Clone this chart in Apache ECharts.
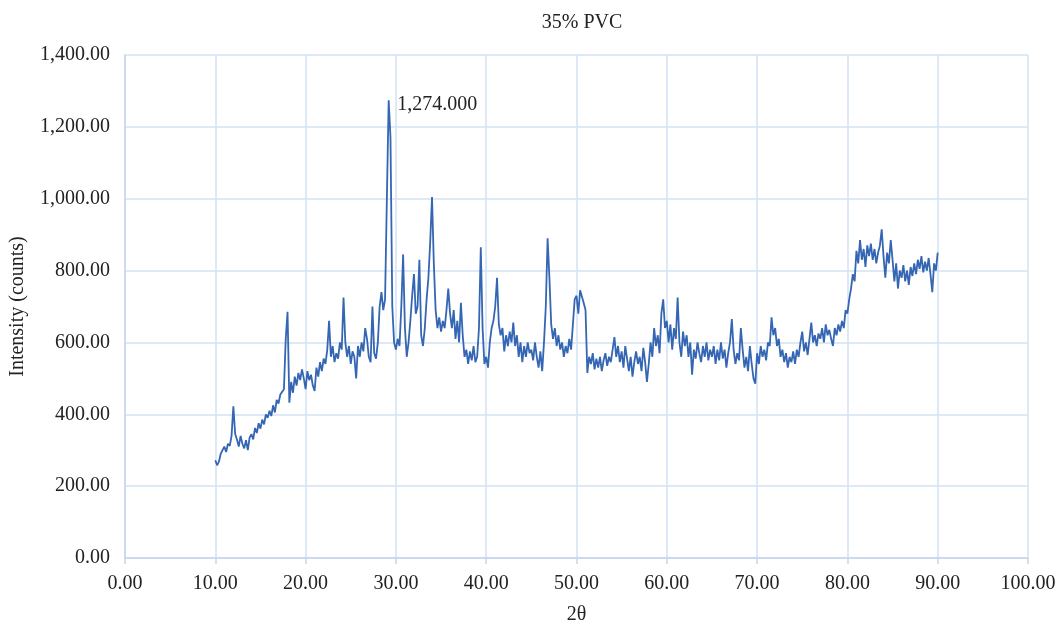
<!DOCTYPE html>
<html>
<head>
<meta charset="utf-8">
<title>35% PVC</title>
<script src="https://cdn.jsdelivr.net/npm/echarts@6/dist/echarts.min.js"></script>
<style>
  html, body { margin: 0; padding: 0; background: #ffffff; }
  #chart { width: 1063px; height: 627px; }
</style>
</head>
<body>
<div id="chart"></div>
<script>
// XRD scan of the 35% PVC sample: 2θ from 10° to 90°, step 0.2°
const chartTitle = '35% PVC';
const xAxisName = '2θ';
const yAxisName = 'Intensity (counts)';
const scanStart = 10;
const scanStep = 0.2;
const xTicks = [0, 10, 20, 30, 40, 50, 60, 70, 80, 90, 100];
const yTicks = [0, 200, 400, 600, 800, 1000, 1200, 1400];
const peakLabelText = '1,274.000';

// intensity (counts), one row per degree: n.0, n.2, n.4, n.6, n.8
const intensity = [
  272, 258, 268, 290, 300,   // 10
  310, 295, 318, 312, 340,   // 11
  422, 345, 330, 310, 340,   // 12
  318, 305, 328, 300, 335,   // 13
  345, 330, 362, 348, 375,   // 14
  360, 385, 372, 400, 390,   // 15
  410, 395, 425, 405, 440,   // 16
  430, 455, 450, 470, 610,   // 17
  685, 432, 490, 460, 505,   // 18
  480, 515, 495, 525, 500,   // 19
  470, 520, 495, 510, 480,   // 20
  465, 530, 505, 545, 520,   // 21
  555, 540, 580, 660, 560,   // 22
  590, 545, 570, 555, 600,   // 23
  580, 725, 600, 560, 590,   // 24
  540, 575, 560, 500, 590,   // 25
  560, 600, 575, 640, 610,   // 26
  560, 545, 700, 570, 555,   // 27
  600, 700, 740, 690, 720,   // 28
  1000, 1274, 1170, 700, 600, // 29
  580, 610, 590, 700, 845,   // 30
  640, 560, 600, 660, 730,   // 31
  790, 680, 700, 830, 620,   // 32
  590, 640, 720, 780, 880,   // 33
  1005, 820, 690, 640, 670,  // 34
  630, 660, 640, 690, 750,   // 35
  680, 640, 690, 610, 660,   // 36
  600, 710, 620, 560, 580,   // 37
  540, 575, 550, 590, 545,   // 38
  560, 640, 865, 640, 540,   // 39
  560, 530, 600, 640, 660,   // 40
  700, 780, 650, 620, 640,   // 41
  575, 620, 590, 630, 600,   // 42
  655, 590, 620, 560, 600,   // 43
  545, 590, 560, 600, 570,   // 44
  580, 550, 600, 560, 530,   // 45
  575, 520, 600, 700, 890,   // 46
  780, 650, 610, 640, 590,   // 47
  620, 580, 600, 560, 590,   // 48
  570, 610, 580, 650, 720,   // 49
  730, 680, 745, 740, 710,   // 50
  690, 515, 560, 540, 570,   // 51
  525, 555, 530, 560, 520,   // 52
  550, 570, 535, 560, 545,   // 53
  580, 615, 560, 590, 545,   // 54
  575, 530, 590, 555, 520,   // 55
  560, 505, 545, 575, 540,   // 56
  560, 520, 585, 545, 490,   // 57
  540, 600, 560, 640, 590,   // 58
  620, 570, 680, 720, 640,   // 59
  660, 600, 650, 580, 640,   // 60
  610, 725, 600, 560, 630,   // 61
  590, 620, 560, 600, 510,   // 62
  580, 555, 600, 570, 545,   // 63
  590, 560, 600, 550, 580,   // 64
  560, 590, 540, 580, 550,   // 65
  600, 555, 580, 530, 570,   // 66
  600, 665, 580, 540, 570,   // 67
  550, 640, 580, 530, 560,   // 68
  520, 590, 540, 500, 485,   // 69
  570, 540, 590, 560, 580,   // 70
  550, 600, 590, 670, 620,   // 71
  640, 590, 610, 560, 580,   // 72
  545, 570, 530, 560, 545,   // 73
  575, 540, 580, 560, 600,   // 74
  630, 575, 600, 565, 610,   // 75
  655, 600, 620, 590, 625,   // 76
  610, 640, 600, 650, 620,   // 77
  635, 610, 590, 640, 620,   // 78
  650, 630, 660, 640, 690,   // 79
  680, 720, 750, 790, 770,   // 80
  855, 820, 885, 830, 860,   // 81
  810, 870, 840, 875, 830,   // 82
  860, 820, 850, 870, 915,   // 83
  840, 780, 850, 820, 885,   // 84
  830, 770, 820, 750, 800,   // 85
  780, 815, 770, 800, 760,   // 86
  810, 785, 820, 790, 830,   // 87
  805, 840, 795, 825, 800,   // 88
  835, 790, 740, 820, 800,   // 89
  850                        // 90
];

const twoTheta = intensity.map((_, i) => +(scanStart + i * scanStep).toFixed(1));
const seriesData = intensity.map((v, i) => [twoTheta[i], v]);

// the tallest reflection carries its value as a label
const peakIndex = intensity.indexOf(Math.max(...intensity));
const peakPoint = [twoTheta[peakIndex], intensity[peakIndex]];

const fmt2 = v => Number(v).toLocaleString('en-US', { minimumFractionDigits: 2, maximumFractionDigits: 2 });
const serif = 'Liberation Serif, Times New Roman, serif';
const textColor = '#222222';
const gridColor = '#d3e2f4';
const axisColor = '#c3d6ee';
const lineColor = '#3466b3';

const chart = echarts.init(document.getElementById('chart'), null, { renderer: 'canvas' });
chart.setOption({
  backgroundColor: '#ffffff',
  animation: false,
  title: {
    text: chartTitle,
    left: 577,
    top: 8,
    textAlign: 'center',
    textStyle: { fontFamily: serif, fontSize: 20, fontWeight: 'normal', color: textColor }
  },
  grid: { left: 125, right: 35, top: 55, bottom: 69, containLabel: false, outerBoundsMode: 'none' },
  xAxis: {
    type: 'value',
    min: xTicks[0],
    max: xTicks[xTicks.length - 1],
    interval: xTicks[1] - xTicks[0],
    name: xAxisName,
    nameLocation: 'middle',
    nameGap: 47,
    nameTextStyle: { fontFamily: serif, fontSize: 20, color: textColor },
    axisLine: { show: true, onZero: false, lineStyle: { color: axisColor, width: 1.5 } },
    axisTick: { show: true, length: 6, lineStyle: { color: axisColor, width: 1.5 } },
    axisLabel: { fontFamily: serif, fontSize: 20, color: textColor, margin: 16, formatter: fmt2 },
    splitLine: { show: true, lineStyle: { color: gridColor, width: 1.5 } }
  },
  yAxis: {
    type: 'value',
    min: yTicks[0],
    max: yTicks[yTicks.length - 1],
    interval: yTicks[1] - yTicks[0],
    name: yAxisName,
    nameLocation: 'middle',
    nameGap: 97,
    nameTextStyle: { fontFamily: serif, fontSize: 20, color: textColor },
    axisLine: { show: true, lineStyle: { color: axisColor, width: 1.5 } },
    axisTick: { show: false },
    axisLabel: { fontFamily: serif, fontSize: 20, color: textColor, margin: 15, formatter: fmt2 },
    splitLine: { show: true, lineStyle: { color: gridColor, width: 1.5 } }
  },
  series: [{
    type: 'line',
    data: seriesData,
    showSymbol: false,
    symbol: 'none',
    lineStyle: { color: lineColor, width: 1.8 },
    itemStyle: { color: lineColor },
    markPoint: {
      symbol: 'circle',
      symbolSize: 1,
      itemStyle: { color: 'rgba(0,0,0,0)' },
      label: {
        show: true,
        position: 'right',
        distance: 8,
        offset: [0, 4],
        formatter: () => peakLabelText,
        fontFamily: serif,
        fontSize: 20,
        color: textColor
      },
      data: [{ coord: peakPoint, value: peakPoint[1] }]
    }
  }]
});
</script>
</body>
</html>
